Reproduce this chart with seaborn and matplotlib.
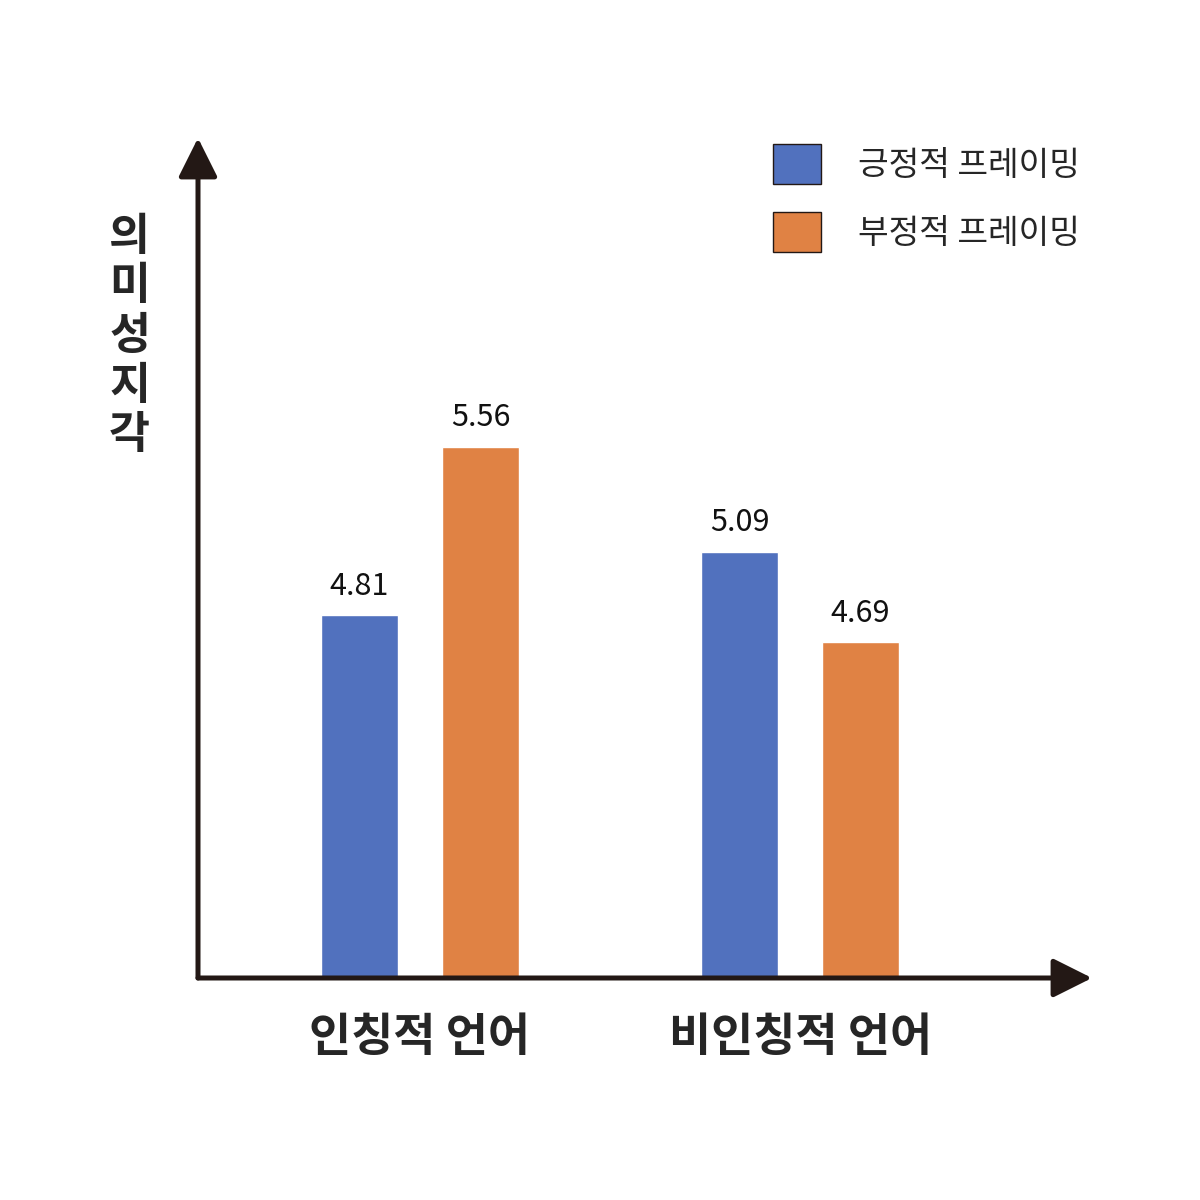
import pandas as pd
import matplotlib.pyplot as plt
import seaborn as sns
from matplotlib.patches import Patch

groups = ['인칭적 언어', '비인칭적 언어']
frames = ['긍정적 프레이밍', '부정적 프레이밍']
values_pos = [4.81, 5.09]
values_neg = [5.56, 4.69]
colors = ['#5171BE', '#E08244']

df = pd.DataFrame({
    'group': groups * 2,
    'frame': [frames[0]] * 2 + [frames[1]] * 2,
    'value': values_pos + values_neg,
})

sns.set_style('white')
plt.rcParams['font.family'] = ['Noto Sans CJK KR', 'DejaVu Sans']

fig = plt.figure(figsize=(12, 12), dpi=100)
ax = fig.add_axes([0.165, 0.185, 0.745, 0.70])
sns.barplot(data=df, x='group', y='value', hue='frame', order=groups, hue_order=frames,
            palette=colors, width=0.637, gap=0.363, saturation=1, legend=False, ax=ax)
ax.set_xlim(-0.584, 1.768)
ax.set_ylim(3.2, 6.93)
for s in ax.spines.values():
    s.set_visible(False)
ax.set_xticks([])
ax.set_yticks([])
ax.set(xlabel='', ylabel='')

for c in ax.containers:
    ax.bar_label(c, fmt='%.2f', padding=10, fontsize=22, color='#111111')

# axis arrows
ax.annotate('', xy=(1.0, 0), xytext=(0, 0), xycoords='axes fraction',
            arrowprops=dict(arrowstyle='-|>,head_length=2.4,head_width=1.2', lw=3.6,
                            color='#231815', shrinkA=0, shrinkB=0), annotation_clip=False)
ax.annotate('', xy=(0, 1.0), xytext=(0, 0), xycoords='axes fraction',
            arrowprops=dict(arrowstyle='-|>,head_length=2.4,head_width=1.2', lw=3.6,
                            color='#231815', shrinkA=0, shrinkB=0), annotation_clip=False)

for i, g in enumerate(groups):
    ax.text(i, 3.2 - 60 * 0.00444, g, ha='center', va='center', fontsize=33, fontweight='bold')

fig.text(0.108, 0.72, '의\n미\n성\n지\n각', ha='center', va='center', fontsize=32,
         fontweight='bold', linespacing=1.1)

handles = [Patch(facecolor=c, edgecolor='#231815', lw=1) for c in colors]
fig.legend(handles, frames, loc='upper right', bbox_to_anchor=(0.925, 0.905), frameon=False,
           fontsize=24, handlelength=1.45, handleheight=1.45, handletextpad=1.1, labelspacing=0.85)

plt.savefig('out.png', dpi=100)
